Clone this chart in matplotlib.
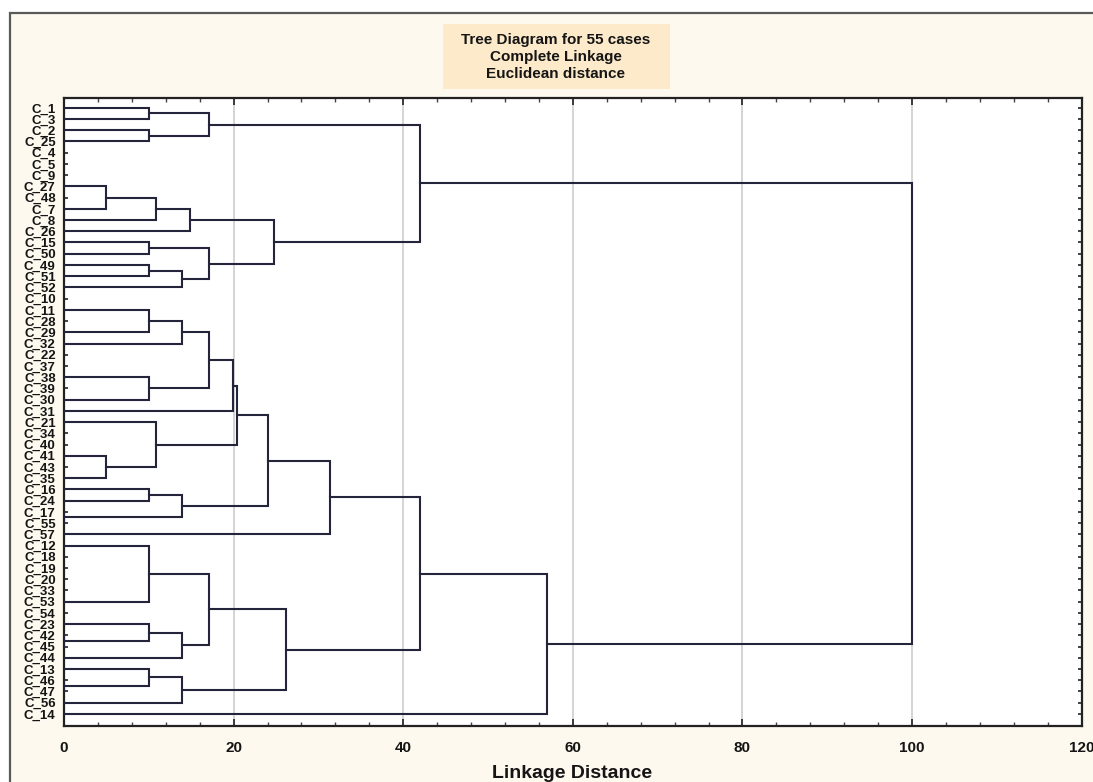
import matplotlib
matplotlib.use("Agg")
import matplotlib.pyplot as plt
from matplotlib.patches import Rectangle
from matplotlib.ticker import MultipleLocator

plt.rcParams['font.family'] = ['Liberation Sans', 'DejaVu Sans']

# leaf order, top to bottom
leaves = ["C_1", "C_3", "C_2", "C_25", "C_4", "C_5", "C_9", "C_27", "C_48", "C_7",
          "C_8", "C_26", "C_15", "C_50", "C_49", "C_51", "C_52", "C_10", "C_11", "C_28",
          "C_29", "C_32", "C_22", "C_37", "C_38", "C_39", "C_30", "C_31", "C_21", "C_34",
          "C_40", "C_41", "C_43", "C_35", "C_16", "C_24", "C_17", "C_55", "C_57", "C_12",
          "C_18", "C_19", "C_20", "C_33", "C_53", "C_54", "C_23", "C_42", "C_45", "C_44",
          "C_13", "C_46", "C_47", "C_56", "C_14"]

# merges: (child a, child b, linkage distance); ints refer to earlier merges
merges = [
    ("C_1", "C_3", 10.0),     # 0
    ("C_2", "C_25", 10.0),    # 1
    (0, 1, 17.1),             # 2
    ("C_27", "C_7", 5.0),     # 3
    (3, "C_8", 10.9),         # 4
    (4, "C_26", 14.9),        # 5
    ("C_15", "C_50", 10.0),   # 6
    ("C_49", "C_51", 10.0),   # 7
    (7, "C_52", 13.9),        # 8
    (6, 8, 17.1),             # 9
    (5, 9, 24.8),             # 10
    (2, 10, 42.0),            # 11
    ("C_11", "C_29", 10.0),   # 12
    (12, "C_32", 13.9),       # 13
    ("C_38", "C_30", 10.0),   # 14
    (13, 14, 17.1),           # 15
    (15, "C_31", 19.9),       # 16
    ("C_41", "C_35", 5.0),    # 17
    ("C_21", 17, 10.9),       # 18
    (16, 18, 20.4),           # 19
    ("C_16", "C_24", 10.0),   # 20
    ("C_17", "C_55", 0.0),    # 21
    (20, 21, 13.9),           # 22
    (19, 22, 24.1),           # 23
    (23, "C_57", 31.4),       # 24
    ("C_12", "C_53", 10.0),   # 25
    ("C_42", "C_45", 0.0),    # 26
    ("C_23", 26, 10.0),       # 27
    (27, "C_44", 13.9),       # 28
    (25, 28, 17.1),           # 29
    ("C_46", "C_47", 0.0),    # 30
    ("C_13", 30, 10.0),       # 31
    (31, "C_56", 13.9),       # 32
    (29, 32, 26.2),           # 33
    (24, 33, 42.0),           # 34
    (34, "C_14", 57.0),       # 35
    (11, 35, 100.0),          # 36
]

W, H = 1093, 782
fig = plt.figure(figsize=(W / 100, H / 100), dpi=100)
fig.patch.set_facecolor('white')

# outer frame (cream panel) and title box, kept behind the axes
fig.patches.append(Rectangle((10 / W, -0.1), 1.2, 1.1 - 13 / H, transform=fig.transFigure,
                             facecolor='#FEF9EF', edgecolor='#5a5a5a', linewidth=1.6, zorder=-3))
fig.patches.append(Rectangle((443 / W, 1 - 89 / H), 227 / W, 65 / H, transform=fig.transFigure,
                             facecolor='#FDEACB', edgecolor='none', zorder=-2))
fig.text(556 / W, 1 - 57 / H, "Tree Diagram for 55 cases\nComplete Linkage\nEuclidean distance",
         ha='center', va='center', fontsize=11, fontweight='bold', linespacing=1.25, color='#151515')

ax = fig.add_axes([64 / W, 1 - 725.7 / H, 1017.7 / W, 628 / H])
ax.set_facecolor('white')

pos = {name: i + 1 for i, name in enumerate(leaves)}
node_y = []
line_col = '#24243a'
for a, b, h in merges:
    pts = []
    for c in (a, b):
        if isinstance(c, str):
            pts.append((pos[c], 0.0))
        else:
            pts.append((node_y[c], merges[c][2]))
    (ya, xa), (yb, xb) = pts
    ax.plot([xa, h, h, xb], [ya, ya, yb, yb], color=line_col, lw=1.5,
            solid_joinstyle='miter', zorder=3)
    node_y.append((ya + yb) / 2)

ax.set_xlim(0, 120)
ax.set_ylim(56.05, 0.1)
ax.xaxis.set_major_locator(MultipleLocator(20))
ax.xaxis.set_minor_locator(MultipleLocator(4))
ax.grid(axis='x', which='major', color='#c9c9c9', lw=1.1, zorder=1)

ax.set_yticks(range(1, len(leaves) + 1))
ax.set_yticklabels(leaves, fontsize=9.5, fontweight='bold', color='#151515')
ax.tick_params(axis='y', which='both', direction='in', left=True, right=True, length=3,
               width=1.2, pad=6, color='#222222')
ax.tick_params(axis='x', which='major', direction='in', top=True, bottom=True, length=5,
               width=1.2, pad=11, labelsize=11, color='#222222')
ax.tick_params(axis='x', which='minor', direction='in', top=True, bottom=True, length=3,
               width=1.0, color='#444444')
for lbl in ax.get_xticklabels():
    lbl.set_fontweight('bold')
    lbl.set_color('#151515')

for sp in ax.spines.values():
    sp.set_linewidth(1.6)
    sp.set_color('#222222')

fig.text(572 / W, 1 - 773 / H, "Linkage Distance", ha='center', va='center',
         fontsize=14, fontweight='bold', color='#151515')

fig.savefig("out.png", dpi=100)
